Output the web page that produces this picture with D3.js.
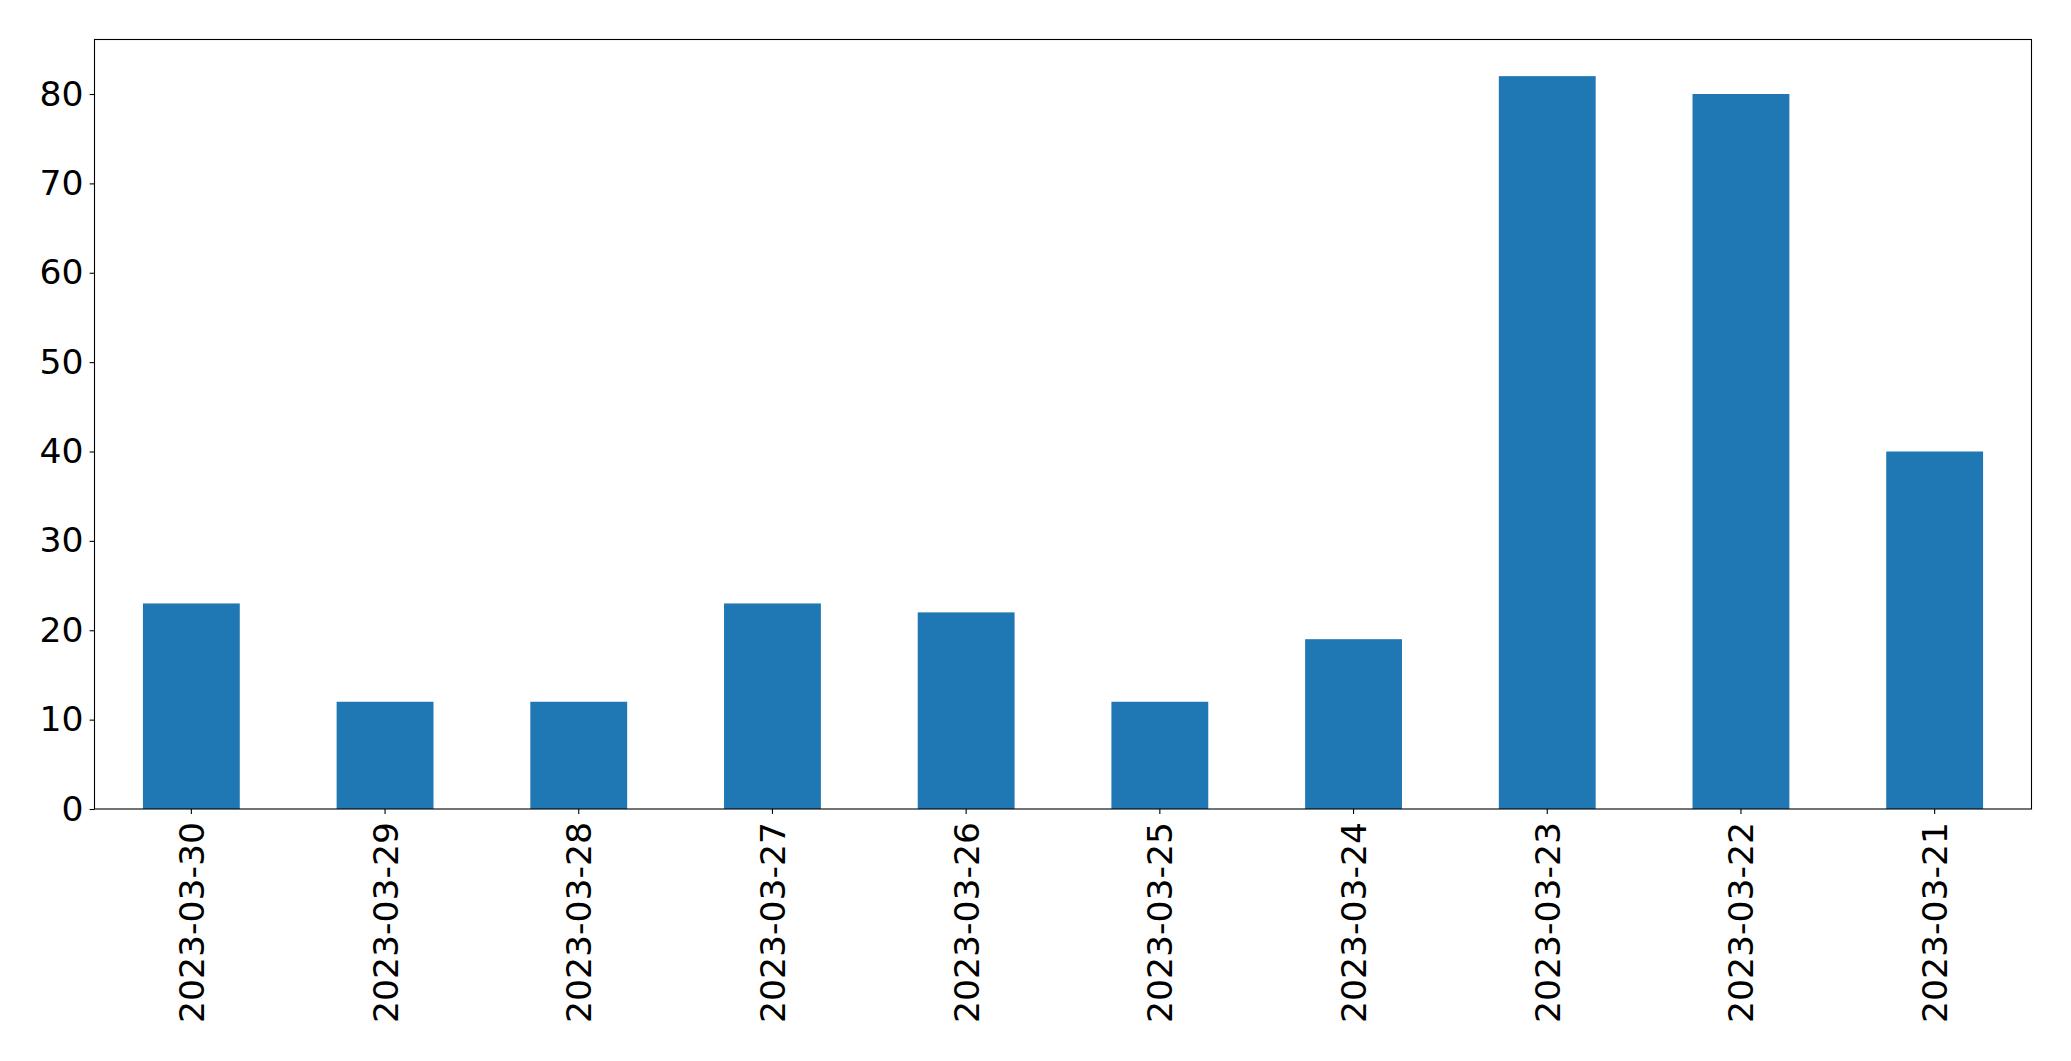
<!DOCTYPE html>
<html>
<head>
<meta charset="utf-8">
<script src="https://cdn.jsdelivr.net/npm/d3@7"></script>
<style>
  body { margin: 0; background: #fff; }
  svg { display: block; }
  .tick text { font-family: "DejaVu Sans", sans-serif; font-size: 34.6px; fill: #000; }
</style>
</head>
<body>
<svg id="chart"></svg>
<script>
// data
const dates = ["2023-03-30", "2023-03-29", "2023-03-28", "2023-03-27", "2023-03-26",
               "2023-03-25", "2023-03-24", "2023-03-23", "2023-03-22", "2023-03-21"];
const counts = [23, 12, 12, 23, 22, 12, 19, 82, 80, 40];
const y_ticks = [0, 10, 20, 30, 40, 50, 60, 70, 80];

const width = 2071, height = 1061;
const margin = {top: 39.5, right: 39.5, bottom: 252, left: 94.5};
const inner_w = width - margin.left - margin.right,
      inner_h = height - margin.top - margin.bottom;

const blue = "#1f77b4";

const svg = d3.select("#chart")
    .attr("width", width)
    .attr("height", height)
    .append("g")
    .attr("transform", "translate(" + margin.left + "," + margin.top + ")");

var xScale = d3.scaleBand()
    .domain(dates)
    .range([0, inner_w])
    .paddingInner(0.5)
    .paddingOuter(0.25);

// matplotlib leaves 5% headroom above the tallest bar
var yScale = d3.scaleLinear()
    .domain([0, d3.max(counts) * 1.05])
    .range([inner_h, 0]);

svg.selectAll("rect.bar")
    .data(counts)
    .enter()
    .append("rect")
    .attr("class", "bar")
    .attr("x", function (d, i) { return xScale(dates[i]); })
    .attr("width", xScale.bandwidth())
    .attr("y", function (d) { return yScale(d); })
    .attr("height", function (d) { return inner_h - yScale(d); })
    .attr("fill", blue);

//y axis
svg.append("g")
    .attr("class", "y-axis")
    .call(d3.axisLeft(yScale)
        .tickValues(y_ticks)
        .tickSize(4.9)
        .tickPadding(6)
        .tickFormat(d3.format("d")))
    .call(function (g) { g.select(".domain").remove(); })
    .call(function (g) { g.selectAll(".tick line").attr("stroke", "#000").attr("stroke-width", 1.1); });

//x axis
svg.append("g")
    .attr("class", "x-axis")
    .attr("transform", "translate(0," + inner_h + ")")
    .call(d3.axisBottom(xScale).tickSize(4.9).tickPadding(5))
    .call(function (g) { g.select(".domain").remove(); })
    .call(function (g) { g.selectAll(".tick line").attr("stroke", "#000").attr("stroke-width", 1.1); })
    .selectAll("text")
    .attr("transform", "rotate(-90)")
    .attr("x", -13)
    .attr("y", 0)
    .attr("dy", "0.36em")
    .style("text-anchor", "end");

// frame
svg.append("rect")
    .attr("x", 0)
    .attr("y", 0)
    .attr("width", inner_w)
    .attr("height", inner_h)
    .attr("fill", "none")
    .attr("stroke", "#000")
    .attr("stroke-width", 1.1);
</script>
</body>
</html>
